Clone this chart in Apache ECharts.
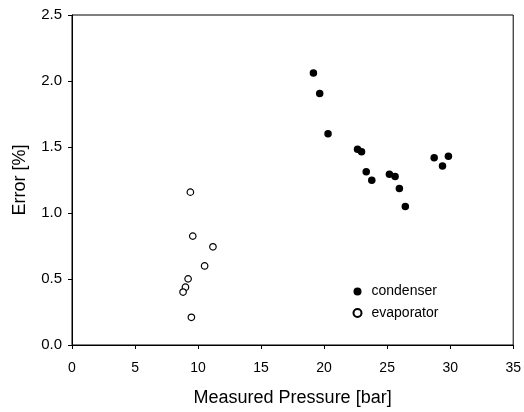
<!DOCTYPE html>
<html>
<head>
<meta charset="utf-8">
<script src="https://cdn.jsdelivr.net/npm/echarts@6/dist/echarts.min.js"></script>
<style>html,body{margin:0;padding:0;background:#fff}#c{width:524px;height:412px}</style>
</head>
<body>
<div id="c"></div>
<script>
var condenserP = [19.15, 19.65, 20.31, 22.65, 22.97, 23.34, 23.78, 25.18, 25.63, 25.97, 26.44, 28.73, 29.39, 29.86];
var condenserE = [2.06, 1.905, 1.60, 1.483, 1.464, 1.313, 1.248, 1.293, 1.276, 1.186, 1.050, 1.419, 1.356, 1.429];
var evaporatorP = [9.39, 9.58, 11.18, 10.52, 9.21, 9.00, 8.81, 9.47];
var evaporatorE = [1.158, 0.825, 0.744, 0.599, 0.501, 0.438, 0.401, 0.21];
var xTicks = [0, 5, 10, 15, 20, 25, 30, 35];
var yTicks = [0.0, 0.5, 1.0, 1.5, 2.0, 2.5];

function pairs(xs, ys){ return xs.map(function(x,i){ return [x, ys[i]]; }); }
var font = 'Liberation Sans, Arial, sans-serif';
var chart = echarts.init(document.getElementById('c'), null, {renderer:'canvas'});
chart.setOption({
  animation: false,
  backgroundColor: '#fff',
  grid: {left: 72, right: 8.5, top: 15, bottom: 65, show: true, borderColor: '#000', borderWidth: 1},
  legend: {
    left: 352.5, top: 284.5, orient: 'vertical', padding: 0, itemWidth: 18, itemHeight: 8, itemGap: 7.5,
    textStyle: {fontFamily: font, fontSize: 14, color: '#000', lineHeight: 14},
    data: [{name:'condenser', icon:'circle'}, {name:'evaporator', icon:'circle'}]
  },
  xAxis: {
    type: 'value', min: xTicks[0], max: xTicks[xTicks.length-1], interval: 5,
    name: 'Measured Pressure [bar]', nameLocation: 'middle', nameGap: 44,
    nameTextStyle: {fontFamily: font, fontSize: 18, color: '#000'},
    axisLine: {lineStyle: {color: '#000', width: 1}},
    axisTick: {show: true, length: 4, lineStyle: {color: '#000'}},
    axisLabel: {fontFamily: font, fontSize: 14, color: '#000', margin: 16},
    splitLine: {show: false}
  },
  yAxis: {
    type: 'value', min: yTicks[0], max: yTicks[yTicks.length-1], interval: 0.5,
    name: 'Error [%]', nameLocation: 'middle', nameGap: 43,
    nameTextStyle: {fontFamily: font, fontSize: 18, color: '#000'},
    axisLine: {lineStyle: {color: '#000', width: 1}},
    axisTick: {show: true, length: 4, lineStyle: {color: '#000'}},
    axisLabel: {fontFamily: font, fontSize: 15, color: '#000', margin: 10, formatter: function(v){ return v.toFixed(1); }},
    splitLine: {show: false}
  },
  series: [
    {name: 'condenser', type: 'scatter', symbol: 'circle', symbolSize: 7.5,
     itemStyle: {color: '#000', opacity: 1}, data: pairs(condenserP, condenserE)},
    {name: 'evaporator', type: 'scatter', symbol: 'circle', symbolSize: 6.5,
     itemStyle: {color: '#fff', borderColor: '#000', borderWidth: 1.2, opacity: 1}, data: pairs(evaporatorP, evaporatorE)}
  ]
});
</script>
</body>
</html>
